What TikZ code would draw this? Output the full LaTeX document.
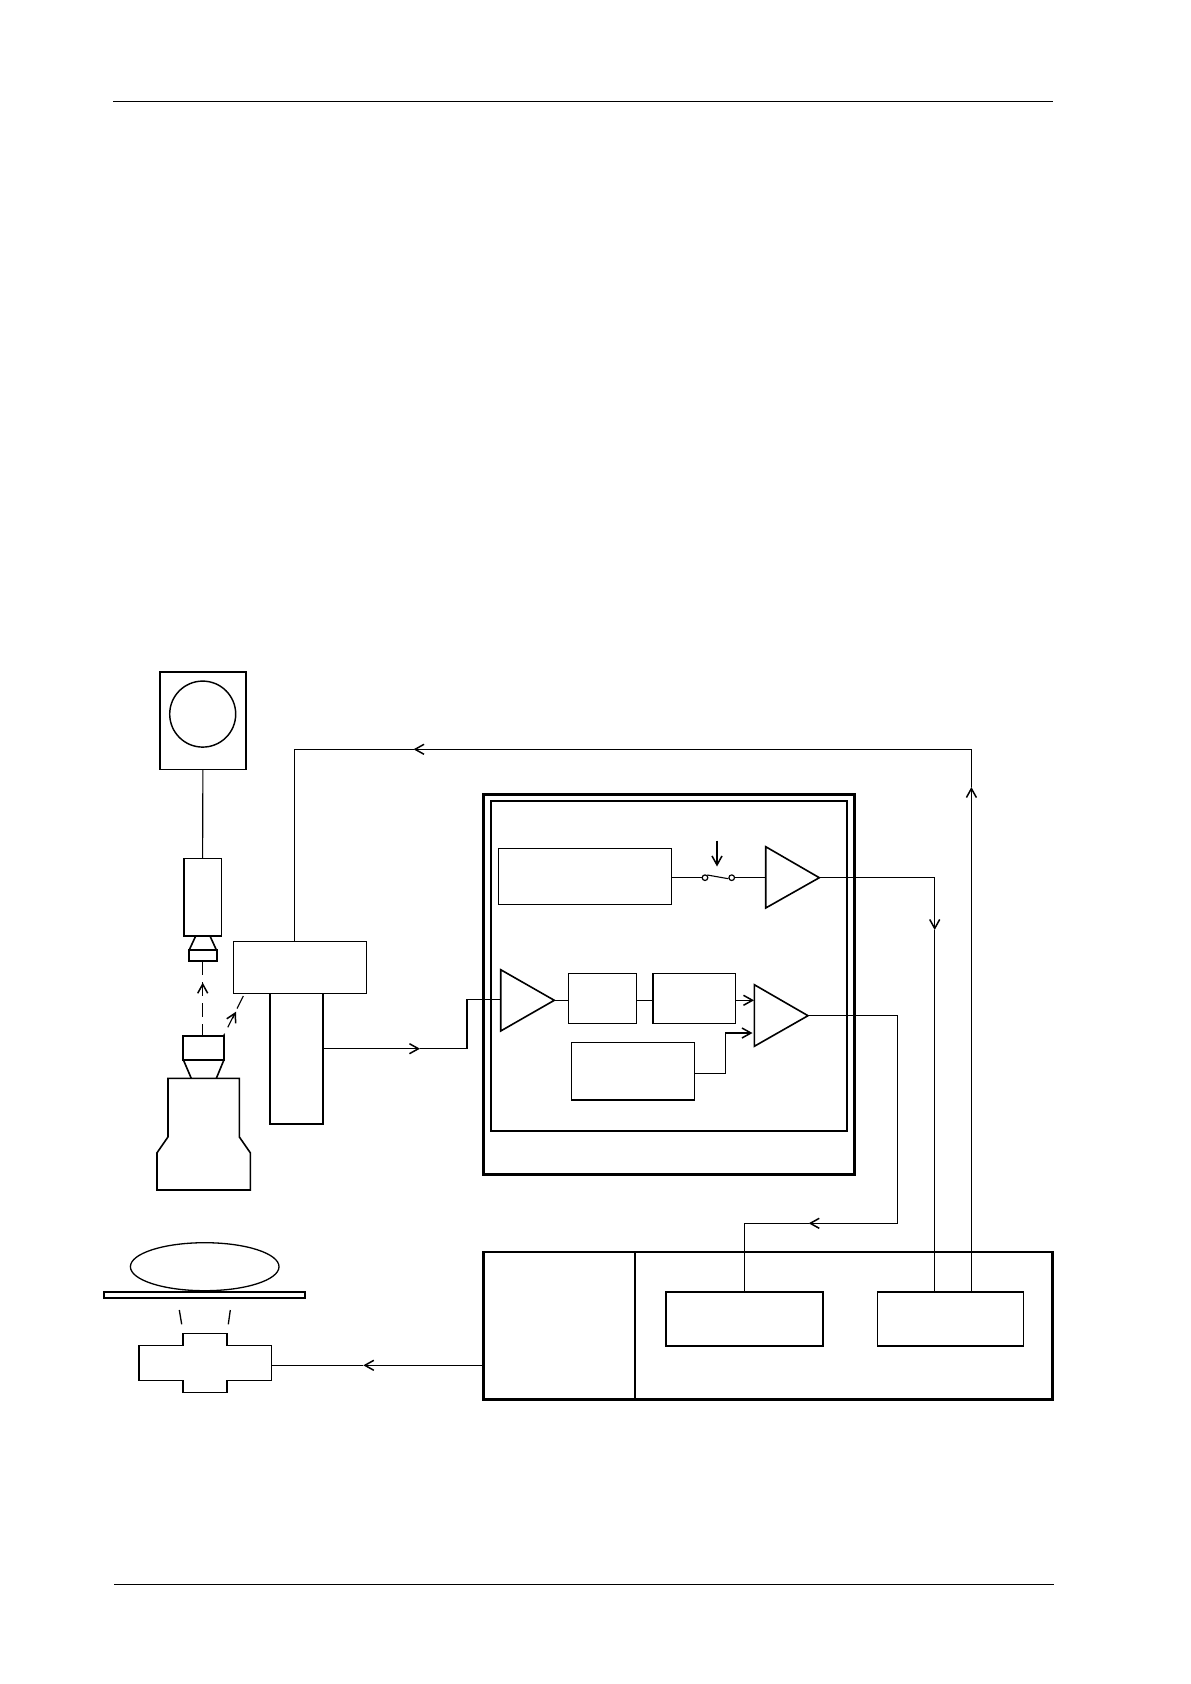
\documentclass[tikz,border=0pt]{standalone}
\usetikzlibrary{arrows.meta,shapes.geometric}
\tikzset{
  x=0.5pt,y=-0.5pt,
  wire/.style={line width=0.55pt,line join=miter},
  thinbox/.style={draw,inner sep=0pt,outer sep=0pt,line width=0.6pt},
  lightbox/.style={draw,inner sep=0pt,outer sep=0pt,line width=0.72pt},
  midbox/.style={draw,inner sep=0pt,outer sep=0pt,line width=0.88pt},
  innerbox/.style={draw,inner sep=0pt,outer sep=0pt,line width=1pt},
  thickbox/.style={draw,inner sep=0pt,outer sep=0pt,line width=1.35pt},
  outline/.style={line width=0.8pt,line join=miter},
  arr/.style={wire,-{Straight Barb[length=4.5pt,width=5pt,line width=0.75pt]}},
  beam/.style={wire,dash pattern=on 7pt off 3.5pt},
  rulerline/.style={line width=0.55pt}
}
\newcommand{\pxbox}[6]{%
  \pgfmathsetmacro{\cxv}{(#3+#5)/2}%
  \pgfmathsetmacro{\cyv}{(#4+#6)/2}%
  \pgfmathsetmacro{\wv}{(#5-#3)*0.5}%
  \pgfmathsetmacro{\hv}{(#6-#4)*0.5}%
  \node[#1,minimum width=\wv pt,minimum height=\hv pt] (#2) at (\cxv,\cyv) {};}
\begin{document}
\begin{tikzpicture}
\useasboundingbox (0,0) rectangle (1190,1684);
\fill[white] (0,0) rectangle (1190,1684);
% page rules
\coordinate (hdrL) at (113.3,101.5); \coordinate (hdrR) at (1053,101.5);
\coordinate (ftrL) at (114,1584.5); \coordinate (ftrR) at (1053.5,1584.5);
\draw[rulerline] (hdrL) -- (hdrR);
\draw[rulerline] (ftrL) -- (ftrR);

% monitor
\pxbox{midbox}{monitor}{159.7}{671.7}{246}{769.6}
\node[draw,ellipse,inner sep=0pt,outer sep=0pt,line width=0.72pt,minimum width=33pt,minimum height=33pt] (screen) at (202.7,714.1) {};
% camera
\pxbox{lightbox}{camera}{184}{858.5}{221.3}{936}
\pxbox{midbox}{lensbox}{189}{949.8}{217}{961.2}
\coordinate (lensTL) at (195.7,936); \coordinate (lensTR) at (210,936);
\coordinate (lensBL) at (189.3,949.8); \coordinate (lensBR) at (216.3,949.8);
\draw[outline] (lensTL) -- (lensBL);
\draw[outline] (lensTR) -- (lensBR);
\draw[wire] (monitor.south) -- (camera.north);

% objective
\pxbox{midbox}{obj}{183.3}{1036.3}{224}{1059.7}
\coordinate (objBL) at (191.3,1078.4); \coordinate (objBR) at (216.3,1078.4);
\draw[outline] (obj.south west) -- (objBL);
\draw[outline] (obj.south east) -- (objBR);
% microscope body
\coordinate (bodyA) at (168,1078.4); \coordinate (bodyB) at (239.3,1078.4);
\draw[outline] (bodyA) -- (bodyB) -- (239.3,1136.9) -- (250.3,1152.8) -- (250.3,1190)
  -- (157,1190) -- (157,1152.8) -- (168,1136.9) -- cycle;

% dashed beams
\coordinate (beamTip) at (202.7,982.7);
\coordinate (beamTail) at (202.7,990);
\draw[beam] (lensbox.south -| beamTip) -- (obj.north -| beamTip);
\draw[arr] (beamTail) -- (beamTip);
\coordinate (diagSrc) at (223.3,1036.3);
\coordinate (diagTip) at (236,1011.7);
\coordinate (diagTail) at (232.5,1018.5);
\coordinate (diagEnd) at (243.3,996);
\draw[beam] (diagEnd) -- (diagSrc);
\draw[arr] (diagTail) -- (diagTip);

% detector head + tube
\pxbox{lightbox}{head}{233.3}{941.5}{366.7}{993.6}
\pxbox{midbox}{tube}{269.7}{993.6}{323}{1124.2}

% processing outer boxes
\pxbox{thickbox}{outer}{483.7}{794.7}{854.7}{1174.3}
\pxbox{innerbox}{inner}{491}{801}{847}{1130.7}
\pxbox{thinbox}{rectA}{498.7}{848.7}{671.7}{904.3}

% amplifier 1
\coordinate (ampAa) at (765.7,846.7); \coordinate (ampAb) at (765.7,908); \coordinate (ampAtip) at (819.3,877.7);
\draw[outline] (ampAa) -- (ampAb) -- (ampAtip) -- cycle;
% switch
\node[draw,circle,inner sep=0pt,outer sep=0pt,line width=0.6pt,minimum size=2.8pt] (swL) at (705,877.7) {};
\node[draw,circle,inner sep=0pt,outer sep=0pt,line width=0.6pt,minimum size=2.8pt] (swR) at (731.7,877.7) {};
\coordinate (bladeA) at (707.3,875); \coordinate (bladeB) at (728.3,878.7);
\draw[wire] (bladeA) -- (bladeB);
\coordinate (swTop) at (717,840.5); \coordinate (swTip) at (717,866.5);
\draw[arr] (swTop) -- (swTip);
\draw[wire] (rectA.east |- swL) -- (swL.west);
\draw[wire] (swR.east) -- (ampAa |- swR);

% amplifier 2
\coordinate (ampBa) at (500.7,969.7); \coordinate (ampBb) at (500.7,1031); \coordinate (ampBtip) at (554.3,1000.3);
\coordinate (ampBin) at (500.7,999.3);
\draw[outline] (ampBa) -- (ampBb) -- (ampBtip) -- cycle;
\pxbox{lightbox}{rectB}{568.7}{973.3}{636.3}{1023.3}
\pxbox{lightbox}{rectC}{653}{973.3}{735.7}{1023.3}
\pxbox{lightbox}{rectD}{571.3}{1042.7}{694.3}{1100}
% amplifier 3
\coordinate (ampCa) at (754.3,984.7); \coordinate (ampCb) at (754.3,1046.3); \coordinate (ampCtip) at (808,1015.7);
\draw[outline] (ampCa) -- (ampCb) -- (ampCtip) -- cycle;
\draw[wire] (ampBtip) -- (rectB.west |- ampBtip);
\draw[wire] (rectB.east |- ampBtip) -- (rectC.west |- ampBtip);
\coordinate (ampCin1) at (754,1000.3);
\draw[arr] (rectC.east |- ampCin1) -- (ampCin1);
\coordinate (ampCin2) at (752.5,1033);
\coordinate (bendD) at (725.3,1073.3);
\coordinate (bendDup) at (725.3,1033);
\draw[arr] (rectD.east |- bendD) -- (bendD) -- (bendDup) -- (ampCin2);

% bottom controller
\pxbox{thickbox}{ctrl}{483.5}{1252}{1052.7}{1399.3}
\coordinate (divT) at (634.7,1252); \coordinate (divB) at (634.7,1399.3);
\draw[line width=0.85pt] (divT) -- (divB);
\pxbox{midbox}{rectE}{666}{1292}{822.7}{1345.7}
\pxbox{midbox}{rectF}{877.5}{1292}{1023.5}{1345.7}

% stage
\node[draw,ellipse,inner sep=0pt,outer sep=0pt,line width=0.65pt,minimum width=74.3pt,minimum height=24pt] (sample) at (204.7,1266.7) {};
\pxbox{midbox}{plate}{103.7}{1291.7}{305.3}{1298}
\coordinate (tickAa) at (179.3,1310); \coordinate (tickAb) at (181.7,1324.3);
\coordinate (tickBa) at (230.3,1310); \coordinate (tickBb) at (228.3,1324.3);
\draw[line width=0.65pt] (tickAa) -- (tickAb);
\draw[line width=0.65pt] (tickBa) -- (tickBb);
\coordinate (crossE) at (271.3,1365.3);
\draw[outline] (182.7,1333.3) -- (227,1333.3) -- (227,1345.3) -- (271.3,1345.3) -- (271.3,1380.3)
  -- (227,1380.3) -- (227,1392.3) -- (182.7,1392.3) -- (182.7,1380.3) -- (138.7,1380.3)
  -- (138.7,1345.3) -- (182.7,1345.3) -- cycle;

% long connectors
\coordinate (c1) at (413.5,749.3);
\coordinate (c2) at (971.4,749.3);
\coordinate (c3) at (971.4,787);
\coordinate (c0) at (294.3,749.3);
\draw[arr] (rectF.north -| c3) -- (c3);
\draw[arr] (c3) -- (c2) -- (c1);
\draw[wire] (c1) -- (c0) -- (head.north -| c0);
\coordinate (c4a) at (934.7,877.7);
\coordinate (c4) at (934.7,930);
\draw[arr] (ampAtip) -- (c4a) -- (c4);
\draw[wire] (c4) -- (rectF.north -| c4);
\coordinate (t0) at (323,1048.7);
\coordinate (t1) at (420,1048.7);
\coordinate (t2) at (467,1048.7);
\coordinate (t3) at (467,999.3);
\draw[arr] (t0) -- (t1);
\draw[wire] (t1) -- (t2) -- (t3) -- (ampBin);
\coordinate (o1) at (897.3,1015.7);
\coordinate (o2) at (897.3,1223.3);
\coordinate (o3) at (808.7,1223.3);
\coordinate (o4) at (744.3,1223.3);
\draw[arr] (ampCtip) -- (o1) -- (o2) -- (o3);
\draw[wire] (o3) -- (o4) -- (rectE.north -| o4);
\coordinate (c7) at (363.3,1365.3);
\draw[arr] (ctrl.west |- crossE) -- (c7);
\draw[wire] (c7) -- (crossE);
\end{tikzpicture}
\end{document}
